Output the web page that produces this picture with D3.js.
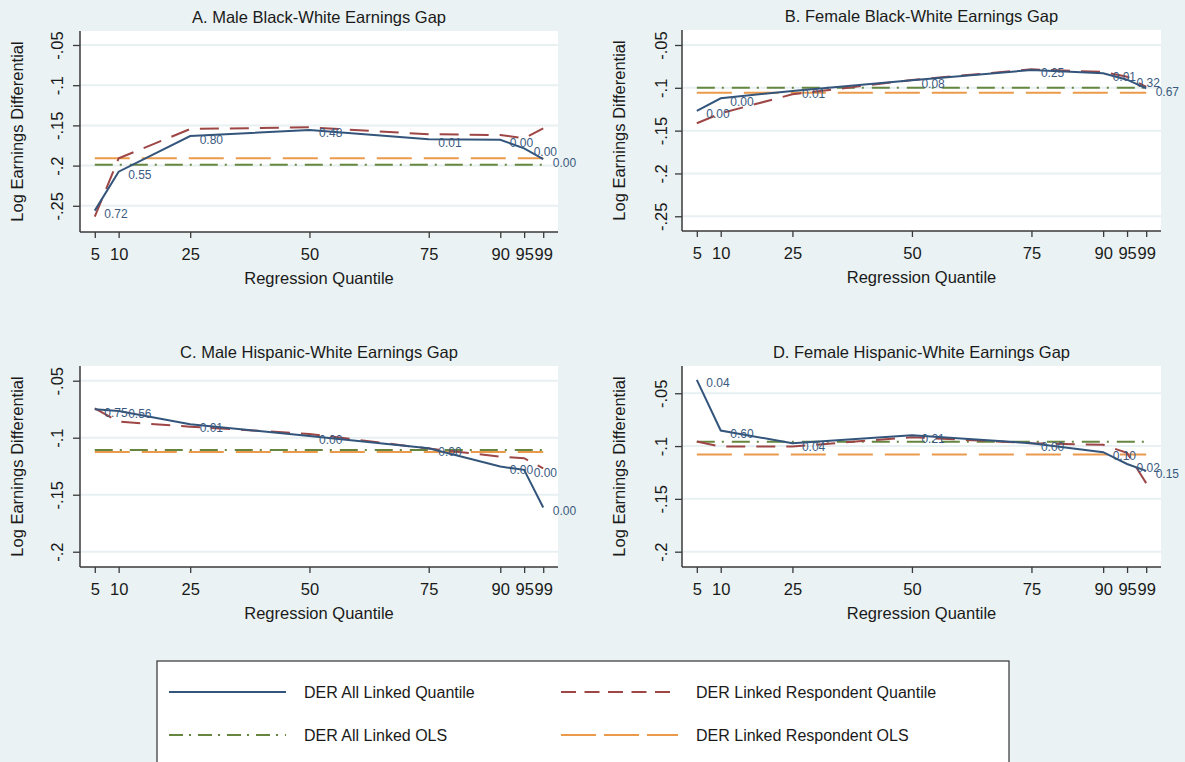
<!DOCTYPE html>
<html>
<head>
<meta charset="utf-8">
<script src="https://cdn.jsdelivr.net/npm/d3@7"></script>
<style>
  html, body { margin: 0; padding: 0; background: #eaf2f3; }
  svg { display: block; font-family: "Liberation Sans", Arial, Helvetica, sans-serif; }
</style>
</head>
<body>
<svg id="chart" width="1185" height="762"></svg>
<script>
// ---------- DATA ----------
const quantiles = [5, 10, 25, 50, 75, 90, 95, 99];
const xTickLabels = ["5", "10", "25", "50", "75", "90", "95", "99"];

const panelTitles = [
  "A. Male Black-White Earnings Gap",
  "B. Female Black-White Earnings Gap",
  "C. Male Hispanic-White Earnings Gap",
  "D. Female Hispanic-White Earnings Gap"
];

// DER All Linked Quantile
const maleBlackAll      = [-0.256, -0.2076, -0.1632, -0.1557, -0.1673, -0.168, -0.1785, -0.192];
const femaleBlackAll    = [-0.127, -0.1122, -0.1037, -0.0912, -0.0792, -0.0831, -0.0905, -0.1006];
const maleHispanicAll   = [-0.075, -0.0765, -0.0882, -0.0985, -0.1093, -0.1253, -0.1282, -0.1612];
const femaleHispanicAll = [-0.0374, -0.0853, -0.0973, -0.0897, -0.0973, -0.1058, -0.117, -0.1235];

// DER Linked Respondent Quantile
const maleBlackResp      = [-0.2635, -0.191, -0.1545, -0.1524, -0.161, -0.162, -0.166, -0.1536];
const femaleBlackResp    = [-0.1414, -0.1298, -0.1076, -0.0909, -0.0784, -0.0815, -0.087, -0.099];
const maleHispanicResp   = [-0.0742, -0.0859, -0.0903, -0.0967, -0.1095, -0.1166, -0.118, -0.1268];
const femaleHispanicResp = [-0.0957, -0.1005, -0.1004, -0.0916, -0.0973, -0.0988, -0.1065, -0.1351];

// OLS estimates (A, B, C, D)
const olsAllLinked  = [-0.199, -0.100, -0.1107, -0.096];
const olsRespondent = [-0.191, -0.1057, -0.1125, -0.108];

// Point labels on the All Linked Quantile series
const labelsA = ["0.72", "0.55", "0.80", "0.48", "0.01", "0.00", "0.00", "0.00"];
const labelsB = ["0.00", "0.00", "0.01", "0.08", "0.25", "0.01", "0.32", "0.67"];
const labelsC = ["0.75", "0.56", "0.01", "0.00", "0.00", "0.00", "0.00", "0.00"];
const labelsD = ["0.04", "0.60", "0.04", "0.21", "0.00", "0.10", "0.02", "0.15"];

// Y axis ticks
const yTicksBlack = [-0.05, -0.1, -0.15, -0.2, -0.25];
const yTicksBlackLabels = ["-.05", "-.1", "-.15", "-.2", "-.25"];
const yTicksHisp = [-0.05, -0.1, -0.15, -0.2];
const yTicksHispLabels = ["-.05", "-.1", "-.15", "-.2"];

const legendLabels = [
  "DER All Linked Quantile",
  "DER Linked Respondent Quantile",
  "DER All Linked OLS",
  "DER Linked Respondent OLS"
];

// ---------- STYLE / LAYOUT ----------
const C_BLUE = "#34557b", C_RED = "#9e4645", C_GREEN = "#66863f", C_ORANGE = "#eb9a4c";
const DASH_RED = "19,11", DASH_ORANGE = "35,12", DASH_GREEN = "18,7,2,8";
const FS = 16.5;
const TXT = "#1a1a1a";

const panels = [
  { title: panelTitles[0], all: maleBlackAll, resp: maleBlackResp, ols1: olsAllLinked[0], ols2: olsRespondent[0],
    labels: labelsA, ticks: yTicksBlack, tickLabels: yTicksBlackLabels,
    box: { l: 80, r: 558, t: 31, b: 232 }, yDom: [-0.2826, -0.0326] },
  { title: panelTitles[1], all: femaleBlackAll, resp: femaleBlackResp, ols1: olsAllLinked[1], ols2: olsRespondent[1],
    labels: labelsB, ticks: yTicksBlack, tickLabels: yTicksBlackLabels,
    box: { l: 682, r: 1161, t: 30, b: 231 }, yDom: [-0.2672, -0.0325] },
  { title: panelTitles[2], all: maleHispanicAll, resp: maleHispanicResp, ols1: olsAllLinked[2], ols2: olsRespondent[2],
    labels: labelsC, ticks: yTicksHisp, tickLabels: yTicksHispLabels,
    box: { l: 80, r: 558, t: 366, b: 567 }, yDom: [-0.2134, -0.0371] },
  { title: panelTitles[3], all: femaleHispanicAll, resp: femaleHispanicResp, ols1: olsAllLinked[3], ols2: olsRespondent[3],
    labels: labelsD, ticks: yTicksHisp, tickLabels: yTicksHispLabels,
    box: { l: 682, r: 1161, t: 366, b: 567 }, yDom: [-0.2145, -0.0242] }
];

const svg = d3.select("#chart");
svg.append("rect").attr("width", 1185).attr("height", 762).attr("fill", "#eaf2f3");

panels.forEach(p => {
  const b = p.box;
  const x = d3.scaleLinear().domain([1.9, 102.1]).range([b.l, b.r]);
  const y = d3.scaleLinear().domain(p.yDom).range([b.b, b.t]);
  const g = svg.append("g");

  // plot region
  g.append("rect").attr("x", b.l).attr("y", b.t).attr("width", b.r - b.l).attr("height", b.b - b.t).attr("fill", "#ffffff");

  // gridlines
  g.selectAll(".grid").data(p.ticks).join("line")
    .attr("x1", b.l).attr("x2", b.r)
    .attr("y1", d => y(d)).attr("y2", d => y(d))
    .attr("stroke", "#e8f0f2").attr("stroke-width", 2);

  // axes
  const yAxis = d3.axisLeft(y).tickValues(p.ticks).tickFormat((d, i) => p.tickLabels[i]).tickSize(7).tickPadding(4);
  const ya = g.append("g").attr("transform", `translate(${b.l},0)`).call(yAxis);
  ya.select(".domain").attr("d", `M0,${b.t}V${b.b}`).attr("stroke", "#3a3a3a").attr("stroke-width", 1.5);
  ya.selectAll(".tick line").attr("stroke", "#3a3a3a").attr("stroke-width", 1.3);
  ya.selectAll(".tick text")
    .attr("font-size", FS).attr("fill", TXT).attr("font-family", "Liberation Sans, Arial, sans-serif")
    .attr("text-anchor", "middle").attr("dy", null).attr("x", null)
    .attr("dominant-baseline", "central")
    .attr("transform", `translate(${-(b.l === 80 ? 23.5 : 21.5)},0) rotate(-90)`);

  const xAxis = d3.axisBottom(x).tickValues(quantiles).tickFormat((d, i) => xTickLabels[i]).tickSize(6).tickPadding(5);
  const xa = g.append("g").attr("transform", `translate(0,${b.b})`).call(xAxis);
  xa.select(".domain").attr("d", `M${b.l},0H${b.r}`).attr("stroke", "#3a3a3a").attr("stroke-width", 1.5);
  xa.selectAll(".tick line").attr("stroke", "#3a3a3a").attr("stroke-width", 1.3);
  xa.selectAll(".tick text")
    .attr("font-size", FS).attr("fill", TXT).attr("font-family", "Liberation Sans, Arial, sans-serif")
    .attr("y", 22).attr("dy", null).attr("dominant-baseline", "central");

  // titles
  const cx = (b.l + b.r) / 2;
  g.append("text").attr("x", cx).attr("y", b.t - 14.5).attr("text-anchor", "middle")
    .attr("dominant-baseline", "central").attr("font-size", FS).attr("fill", TXT).text(p.title);
  g.append("text").attr("x", cx).attr("y", b.b + 45.5).attr("text-anchor", "middle")
    .attr("dominant-baseline", "central").attr("font-size", FS).attr("fill", TXT).text("Regression Quantile");
  g.append("text").attr("transform", `translate(${b.l - 63},${(b.t + b.b) / 2}) rotate(-90)`)
    .attr("text-anchor", "middle").attr("dominant-baseline", "central")
    .attr("font-size", FS).attr("fill", TXT).text("Log Earnings Differential");

  const line = d3.line().x((d, i) => x(quantiles[i])).y(d => y(d));

  // OLS lines (constant across quantiles)
  g.append("path").datum(quantiles.map(() => p.ols1)).attr("d", line)
    .attr("fill", "none").attr("stroke", C_GREEN).attr("stroke-width", 2).attr("stroke-dasharray", DASH_GREEN);
  g.append("path").datum(quantiles.map(() => p.ols2)).attr("d", line)
    .attr("fill", "none").attr("stroke", C_ORANGE).attr("stroke-width", 2).attr("stroke-dasharray", DASH_ORANGE);

  // quantile lines
  g.append("path").datum(p.resp).attr("d", line)
    .attr("fill", "none").attr("stroke", C_RED).attr("stroke-width", 2).attr("stroke-dasharray", DASH_RED);
  g.append("path").datum(p.all).attr("d", line)
    .attr("fill", "none").attr("stroke", C_BLUE).attr("stroke-width", 2);

  // point labels
  g.selectAll(".plab").data(p.all).join("text")
    .attr("x", (d, i) => x(quantiles[i]) + 9.5)
    .attr("y", d => y(d) + 3.5)
    .attr("dominant-baseline", "central")
    .attr("font-size", 12).attr("fill", "#3b5a80")
    .text((d, i) => p.labels[i]);
});

// ---------- LEGEND ----------
const lg = svg.append("g");
lg.append("rect").attr("x", 157).attr("y", 661).attr("width", 852).attr("height", 130)
  .attr("fill", "#ffffff").attr("stroke", "#333").attr("stroke-width", 1.2);

const legendItems = [
  { label: legendLabels[0], color: C_BLUE, dash: null, x: 169, y: 692 },
  { label: legendLabels[1], color: C_RED, dash: "15,8.5", x: 561, y: 692 },
  { label: legendLabels[2], color: C_GREEN, dash: "14,6,2,7", x: 169, y: 735 },
  { label: legendLabels[3], color: C_ORANGE, dash: "35,8", x: 561, y: 735 }
];
legendItems.forEach(it => {
  lg.append("line").attr("x1", it.x).attr("x2", it.x + 117).attr("y1", it.y).attr("y2", it.y)
    .attr("stroke", it.color).attr("stroke-width", 2).attr("stroke-dasharray", it.dash);
  lg.append("text").attr("x", it.x + 135).attr("y", it.y).attr("dominant-baseline", "central")
    .attr("font-size", 16).attr("fill", TXT).text(it.label);
});
</script>
</body>
</html>
